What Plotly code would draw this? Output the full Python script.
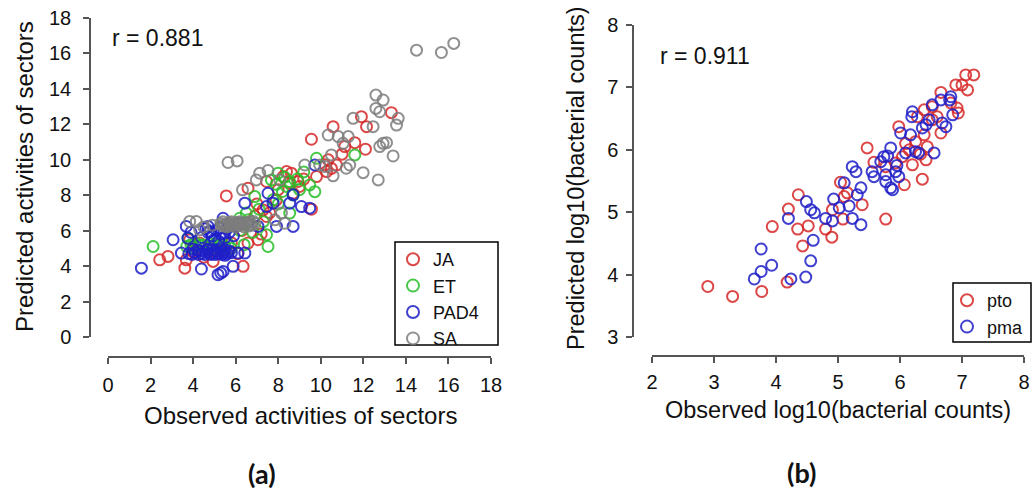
import plotly.graph_objects as go

W, H = 1033, 491
def px(x): return x / W
def py(y): return 1 - y / H

# ---------------- Panel (a) data ----------------
ja_x = [13.32, 11.91, 12.15, 10.58, 9.56, 11.6, 12.1, 11.13, 10.35, 10.74, 10.27, 10.5, 8.39, 8.62, 8.23,
        8.93, 9.8, 9.0, 5.56, 6.58, 7.45, 9.56, 8.7, 7.29, 7.45, 7.6, 7.05, 6.58, 6.35, 4.94, 3.61, 3.68,
        2.43, 2.82, 3.84, 4.3, 4.5, 5.2, 6.1, 7.2, 6.9, 8.0, 8.5, 9.2, 7.9, 6.3, 5.8, 4.0, 4.7, 7.0, 10.2, 11.0]
ja_y = [12.64, 12.41, 11.85, 11.85, 11.14, 10.95, 10.58, 10.73, 9.98, 9.69, 9.32, 9.5, 9.32, 9.23, 9.04,
        8.76, 9.04, 8.48, 7.95, 8.38, 8.76, 7.2, 8.1, 7.16, 6.79, 7.0, 5.48, 5.29, 3.98, 4.26, 3.88, 4.35,
        4.35, 4.54, 5.48, 5.3, 4.5, 4.9, 4.7, 5.8, 6.8, 8.3, 8.7, 8.9, 7.7, 6.0, 5.3, 4.8, 5.0, 7.5, 9.7, 10.3]

et_x = [2.12, 11.6, 9.8, 9.72, 9.48, 8.54, 7.99, 7.68, 8.39, 8.54, 7.52, 7.45, 6.5, 6.9, 7.76, 3.76, 6.19,
        5.9, 3.7, 4.0, 4.3, 4.6, 4.9, 5.2, 5.5, 5.8, 4.1, 4.8, 6.4, 6.8, 7.3, 8.2, 8.9, 9.2, 8.0, 7.1, 8.7,
        9.0, 6.2, 3.9, 4.45, 5.05, 5.35, 5.65, 6.6, 7.9, 8.3]
et_y = [5.1, 10.26, 10.07, 8.19, 8.57, 8.76, 9.23, 8.85, 8.48, 6.98, 5.1, 5.76, 6.98, 7.91, 7.73, 5.57, 6.69,
        6.3, 5.1, 5.05, 5.15, 5.1, 5.05, 5.15, 5.1, 5.0, 5.3, 5.25, 5.2, 5.9, 6.5, 8.2, 8.9, 9.3, 7.5, 7.2, 8.0,
        8.3, 6.0, 5.2, 5.2, 5.25, 5.2, 5.25, 6.6, 8.6, 9.0]

pad4_x = [1.57, 3.06, 3.68, 3.76, 3.45, 4.39, 5.17, 5.41, 5.3, 5.88, 4.7, 5.41, 6.43, 6.43, 6.11, 7.52, 7.76,
          7.45, 8.7, 8.54, 8.7, 7.92, 9.09, 9.48, 9.72, 7.05,
          3.8, 4.1, 4.4, 4.6, 4.8, 5.0, 5.2, 5.4, 5.6, 5.8, 4.2, 4.9, 5.3, 5.5, 4.0,
          3.95, 4.25, 4.55, 4.7, 4.85, 5.1, 5.35, 5.5, 5.7, 4.3, 4.65, 5.05, 5.45,
          4.4, 4.7, 4.9, 5.1, 5.3, 5.5, 5.7, 5.0, 5.6, 4.6, 5.2, 5.9, 6.2, 3.9, 4.8, 5.25, 5.45]
pad4_y = [3.88, 5.48, 6.23, 5.57, 4.73, 3.83, 3.51, 3.69, 3.6, 3.98, 6.23, 6.69, 7.54, 4.73, 4.73, 8.1, 7.54,
          7.35, 8.01, 7.54, 6.23, 6.23, 7.35, 7.26, 9.69, 6.23,
          4.7, 4.75, 4.7, 4.8, 4.7, 4.75, 4.7, 4.8, 4.7, 4.75, 4.9, 4.9, 4.95, 4.6, 4.95,
          4.65, 4.65, 4.65, 4.9, 4.65, 4.85, 4.65, 4.9, 4.85, 4.85, 4.95, 4.65, 4.75,
          5.6, 5.9, 5.7, 6.0, 5.8, 5.6, 5.9, 5.5, 6.1, 6.1, 5.4, 5.7, 6.4, 5.9, 5.95, 6.15, 5.85]

sa_x = [14.5, 15.67, 16.25, 12.59, 12.93, 12.59, 12.77, 13.64, 13.56, 12.46, 11.52, 10.35, 10.82, 11.29, 11.05,
        12.93, 12.77, 13.09, 13.4, 11.99, 12.7, 11.36, 11.2, 10.5, 10.58, 9.95, 9.25, 5.64, 6.07, 6.32, 6.97,
        7.52, 8.07, 8.15, 8.31, 7.84, 6.82, 3.84, 4.15, 4.31, 7.13, 10.2,
        5.3, 5.5, 5.7, 5.9, 6.1, 6.3, 6.5, 6.7, 5.4, 5.8, 6.2, 6.6, 6.0, 5.6, 6.9, 4.9, 4.5,
        5.35, 5.6, 5.85, 6.05, 6.25, 6.45, 6.65, 6.75, 5.45, 5.75, 6.15, 6.4]
sa_y = [16.16, 16.03, 16.54, 13.63, 13.35, 12.88, 12.69, 12.32, 11.94, 11.85, 12.32, 11.38, 11.29, 11.29, 10.91,
        10.91, 10.73, 10.95, 10.2, 9.26, 8.85, 9.69, 9.51, 10.26, 9.08, 9.69, 9.69, 9.83, 9.92, 8.29, 8.85,
        9.38, 8.85, 6.98, 6.41, 6.6, 6.51, 6.51, 6.51, 6.04, 9.23, 9.6,
        6.4, 6.3, 6.45, 6.3, 6.4, 6.3, 6.45, 6.35, 6.5, 6.5, 6.5, 6.25, 6.2, 6.2, 6.4, 6.3, 6.2,
        6.3, 6.4, 6.35, 6.45, 6.35, 6.4, 6.5, 6.3, 6.25, 6.3, 6.3, 6.2]

# ---------------- Panel (b) data ----------------
pto_x = [2.9, 3.3, 3.77, 3.94, 4.2, 4.36, 4.35, 4.52, 4.43, 4.18, 4.8, 4.9, 4.91, 5.08, 5.04, 5.15, 5.39, 5.77,
         5.47, 5.58, 6.07, 6.36, 5.98, 5.93, 5.77, 6.2, 6.42, 6.09, 6.25, 6.39, 6.44, 6.28, 6.39, 6.52, 6.66,
         6.6, 6.66, 6.9, 7.0, 7.06, 7.19, 7.09, 6.92, 6.94, 6.82, 6.52, 6.33, 6.04, 5.1, 6.15]
pto_y = [3.81, 3.65, 3.73, 4.77, 5.05, 5.28, 4.73, 4.78, 4.46, 3.88, 4.73, 4.6, 5.04, 4.89, 5.48, 5.31, 5.12, 4.89,
         6.03, 5.8, 5.44, 5.53, 6.37, 5.79, 5.73, 5.76, 5.84, 6.1, 6.13, 6.24, 6.05, 6.53, 6.64, 6.69, 6.92,
         6.53, 6.27, 7.04, 7.04, 7.2, 7.2, 6.96, 6.67, 6.59, 6.75, 6.48, 5.93, 5.89, 5.25, 6.0]

pma_x = [3.65, 3.76, 3.76, 3.93, 4.2, 4.24, 4.48, 4.56, 4.6, 4.49, 4.56, 4.62, 4.8, 4.91, 4.93, 5.02, 5.18, 5.1,
         5.23, 5.37, 5.23, 5.29, 5.31, 5.37, 5.55, 5.58, 5.69, 5.74, 5.77, 5.77, 5.85, 5.88, 5.85, 5.93, 5.98,
         6.01, 6.09, 6.17, 6.2, 6.19, 6.25, 6.36, 6.42, 6.47, 6.52, 6.55, 6.68, 6.74, 6.66, 6.8, 6.82, 6.85,
         5.8, 5.95, 6.3]
pma_y = [3.93, 4.05, 4.41, 4.15, 4.9, 3.93, 3.96, 4.22, 4.55, 5.17, 5.04, 4.99, 4.9, 4.86, 5.21, 5.07, 5.1, 5.47,
         4.9, 4.8, 5.73, 5.65, 5.28, 5.39, 5.65, 5.57, 5.81, 5.89, 5.6, 5.49, 6.03, 5.36, 5.39, 5.65, 5.57,
         6.27, 5.95, 6.24, 6.61, 6.53, 5.97, 6.35, 6.4, 6.48, 6.72, 5.95, 6.43, 6.37, 6.8, 6.8, 6.85, 6.56,
         5.9, 5.75, 5.95]

a_ticks = [0, 2, 4, 6, 8, 10, 12, 14, 16, 18]
b_xticks = [2, 3, 4, 5, 6, 7, 8]
b_yticks = [3, 4, 5, 6, 7, 8]

COL = {"JA": "rgba(214,40,40,0.85)", "ET": "rgba(40,190,40,0.85)",
       "PAD4": "rgba(30,30,200,0.85)", "SA": "rgba(125,125,125,0.85)",
       "pto": "rgba(214,40,40,0.85)", "pma": "rgba(30,30,200,0.85)"}

FONT = "Liberation Sans, Arial, sans-serif"

fig = go.Figure()

def add(name, xs, ys, xa, ya, leg):
    fig.add_trace(go.Scatter(
        x=xs, y=ys, mode="markers", name=name, xaxis=xa, yaxis=ya, legend=leg,
        marker=dict(symbol="circle-open", size=11, color=COL[name],
                    line=dict(width=2, color=COL[name])),
        hoverinfo="x+y+name"))

add("JA", ja_x, ja_y, "x", "y", "legend")
add("ET", et_x, et_y, "x", "y", "legend")
add("PAD4", pad4_x, pad4_y, "x", "y", "legend")
add("SA", sa_x, sa_y, "x", "y", "legend")
add("pto", pto_x, pto_y, "x2", "y2", "legend2")
add("pma", pma_x, pma_y, "x2", "y2", "legend2")

axis_common = dict(showline=True, linecolor="#555555", linewidth=1.5, ticks="outside",
                   ticklen=6, tickwidth=1.5, tickcolor="#555555", showgrid=False,
                   zeroline=False, tickfont=dict(size=20, color="#111111", family=FONT),
                   anchor="free", fixedrange=True)

fig.update_layout(
    width=W, height=H, margin=dict(l=0, r=0, t=0, b=0, autoexpand=False),
    paper_bgcolor="white", plot_bgcolor="white",
    font=dict(family=FONT, color="#111111"),
    xaxis=dict(domain=[px(108), px(491)], range=[0, 18], position=py(357),
               tickvals=a_ticks, ticklabelstandoff=4, **axis_common),
    yaxis=dict(domain=[py(337), py(17.5)], range=[0, 18], position=px(90),
               tickvals=a_ticks, ticklabelstandoff=8, **axis_common),
    xaxis2=dict(domain=[px(652), px(1024)], range=[2, 8], position=py(356),
                tickvals=b_xticks, ticklabelstandoff=2, **axis_common),
    yaxis2=dict(domain=[py(337), py(25)], range=[3, 8], position=px(633),
                tickvals=b_yticks, ticklabelstandoff=4, **axis_common),
    legend=dict(x=px(393), y=py(241), xanchor="left", yanchor="top",
                font=dict(size=18, family=FONT, color="#111111"),
                bgcolor="rgba(0,0,0,0)", borderwidth=0, itemsizing="constant"),
    legend2=dict(x=px(947), y=py(282), xanchor="left", yanchor="top",
                 font=dict(size=18, family=FONT, color="#111111"),
                 bgcolor="rgba(0,0,0,0)", borderwidth=0, itemsizing="constant"),
    showlegend=True,
)

# legend frames
fig.add_shape(type="rect", xref="paper", yref="paper", x0=px(395), x1=px(498),
              y0=py(345), y1=py(242), line=dict(color="black", width=1.5))
fig.add_shape(type="rect", xref="paper", yref="paper", x0=px(953), x1=px(1031),
              y0=py(342), y1=py(283), line=dict(color="black", width=1.5))

def ann(text, x, y, size, angle=0, xanchor="center", family=FONT):
    fig.add_annotation(text=text, x=px(x), y=py(y), xref="paper", yref="paper",
                       showarrow=False, textangle=angle, xanchor=xanchor, yanchor="middle",
                       font=dict(size=size, family=family, color="#111111"))

ann("r = 0.881", 110, 38, 23, xanchor="left")
ann("r = 0.911", 658, 56, 23, xanchor="left")
ann("Predicted activities of sectors", 24, 177, 24, angle=-90)
ann("Observed activities of sectors", 300, 415, 24)
ann("Predicted log10(bacterial counts)", 576, 178, 23.5, angle=-90)
ann("Observed log10(bacterial counts)", 838, 410, 23.5)
ann("<b>(a)</b>", 262, 473, 27, family="Lato, Open Sans, sans-serif")
ann("<b>(b)</b>", 801, 472, 27, family="Lato, Open Sans, sans-serif")

fig.write_html("out.html")
